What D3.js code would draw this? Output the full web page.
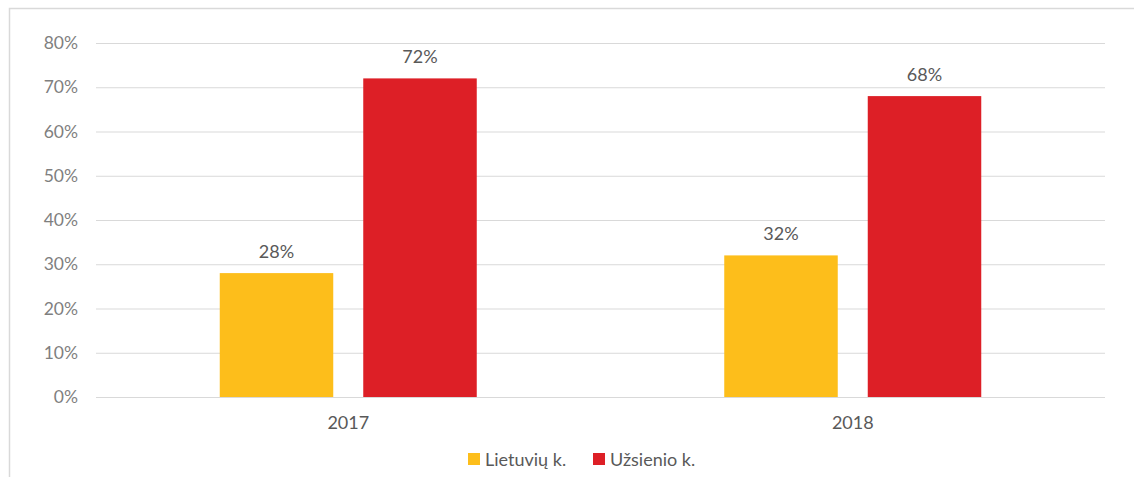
<!DOCTYPE html>
<html>
<head>
<meta charset="utf-8">
<script src="https://cdn.jsdelivr.net/npm/d3@7"></script>
<style>
  body { margin: 0; background: #fff; }
  text { font-family: Lato, "Open Sans", sans-serif; }
</style>
</head>
<body>
<div id="chart"></div>
<script>
// Data
const years = ['2017', '2018'];
const seriesNames = ['Lietuvių k.', 'Užsienio k.'];
const lietuviu = [0.28, 0.32];
const uzsienio = [0.72, 0.68];
const yTicks = [0, 0.1, 0.2, 0.3, 0.4, 0.5, 0.6, 0.7, 0.8];

const colors = ['#FDBE1B', '#DD1F26'];

const width = 1134, height = 477;
const margin = {top: 43, right: 29, bottom: 80, left: 96};
const groupW = 257, barGap = 30;

const svg = d3.select('#chart').append('svg')
    .attr('width', width)
    .attr('height', height);

// outer frame
svg.append('rect')
    .attr('x', 9.5).attr('y', 8.5)
    .attr('width', width).attr('height', height)
    .attr('fill', 'none')
    .attr('stroke', '#d9d9d9')
    .attr('stroke-width', 1.5);

const chartW = width - margin.left - margin.right,
      chartH = height - margin.top - margin.bottom;

const chart = svg.append('g')
    .attr('transform', `translate(${margin.left},${margin.top})`);

const scaleX = d3.scaleBand(years, [0, chartW]);
const scaleY = d3.scaleLinear([0, 0.8], [chartH, 0]);
// two bars per group, 30px apart
const scaleS = d3.scaleBand([0, 1], [0, groupW])
    .paddingInner(barGap / ((groupW + barGap) / 2));

// gridlines / y axis
const axisY = chart.append('g')
    .call(d3.axisLeft(scaleY).tickValues(yTicks).tickFormat(d3.format('.0%')).tickSize(-chartW).tickPadding(18));
axisY.select('.domain').remove();
axisY.selectAll('.tick line').attr('stroke', '#d9d9d9').attr('stroke-width', 1);
axisY.selectAll('.tick text')
    .attr('fill', '#7f7f7f')
    .style('font-size', '17.5px');

// x axis labels
const axisX = chart.append('g')
    .attr('transform', `translate(0,${chartH})`)
    .call(d3.axisBottom(scaleX).tickSize(0).tickPadding(19));
axisX.select('.domain').remove();
axisX.selectAll('.tick text')
    .attr('fill', '#595959')
    .style('font-size', '18px');

// bars
const rows = years.map((y, i) => [
    {year: y, s: 0, v: lietuviu[i]},
    {year: y, s: 1, v: uzsienio[i]}
]).flat();

const groupOffset = (scaleX.bandwidth() - groupW) / 2;

chart.selectAll('rect.bar')
    .data(rows)
    .join('rect')
    .classed('bar', true)
    .attr('x', d => scaleX(d.year) + groupOffset + scaleS(d.s))
    .attr('y', d => scaleY(d.v))
    .attr('width', scaleS.bandwidth())
    .attr('height', d => scaleY(0) - scaleY(d.v))
    .attr('fill', d => colors[d.s]);

chart.selectAll('text.value')
    .data(rows)
    .join('text')
    .classed('value', true)
    .attr('x', d => scaleX(d.year) + groupOffset + scaleS(d.s) + scaleS.bandwidth() / 2)
    .attr('y', d => scaleY(d.v) - 15)
    .attr('text-anchor', 'middle')
    .attr('fill', '#595959')
    .style('font-size', '18px')
    .text(d => d3.format('.0%')(d.v));

// legend
const legend = svg.append('g').attr('transform', 'translate(468,453)');
const legendX = [0, 125];
seriesNames.forEach((name, i) => {
    const g = legend.append('g').attr('transform', `translate(${legendX[i]},0)`);
    g.append('rect').attr('width', 12).attr('height', 12).attr('fill', colors[i]);
    g.append('text')
        .attr('x', 17).attr('y', 13)
        .attr('fill', '#595959')
        .style('font-size', '18px')
        .text(name);
});
</script>
</body>
</html>
